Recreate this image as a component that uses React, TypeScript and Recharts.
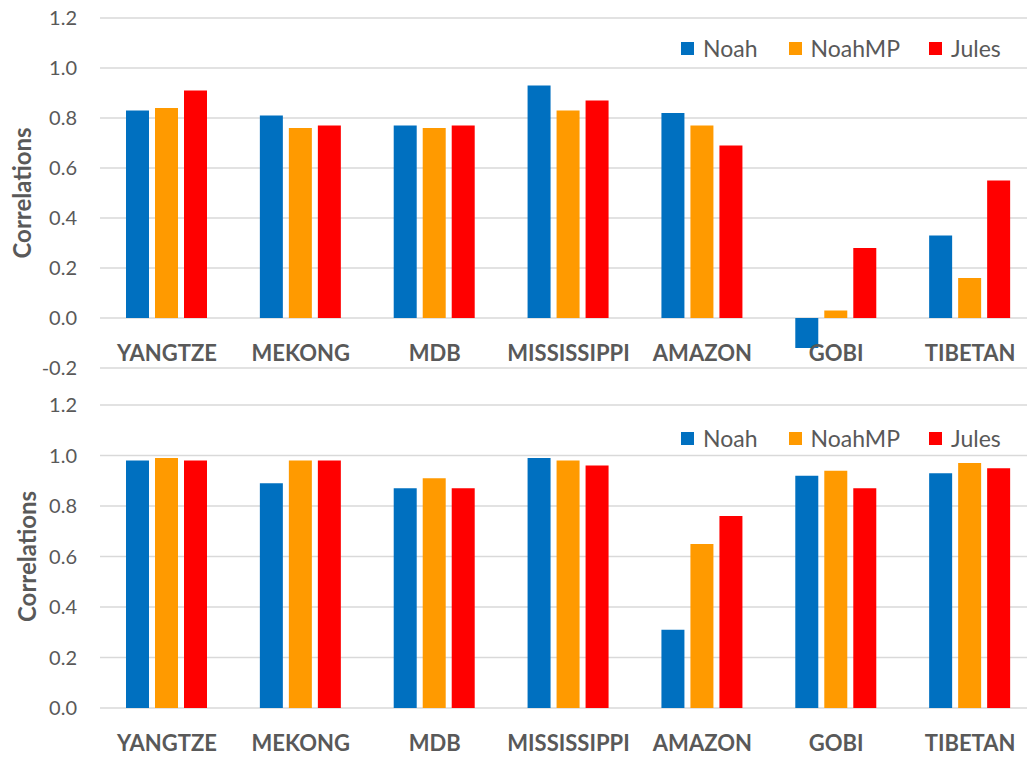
import { Bar, BarChart, CartesianGrid, Legend, XAxis, YAxis } from "recharts";

const basins = ["YANGTZE", "MEKONG", "MDB", "MISSISSIPPI", "AMAZON", "GOBI", "TIBETAN"];

// top panel
const noahTop = [0.83, 0.81, 0.77, 0.93, 0.82, -0.12, 0.33];
const noahMpTop = [0.84, 0.76, 0.76, 0.83, 0.77, 0.03, 0.16];
const julesTop = [0.91, 0.77, 0.77, 0.87, 0.69, 0.28, 0.55];
const ticksTop = [-0.2, 0, 0.2, 0.4, 0.6, 0.8, 1.0, 1.2];

// bottom panel
const noahBottom = [0.98, 0.89, 0.87, 0.99, 0.31, 0.92, 0.93];
const noahMpBottom = [0.99, 0.98, 0.91, 0.98, 0.65, 0.94, 0.97];
const julesBottom = [0.98, 0.98, 0.87, 0.96, 0.76, 0.87, 0.95];
const ticksBottom = [0, 0.2, 0.4, 0.6, 0.8, 1.0, 1.2];

const seriesNames = ["Noah", "NoahMP", "Jules"];
const seriesColors = ["#0070C0", "#FF9A00", "#FF0000"];

const FONT = "Lato, 'Open Sans', sans-serif";
const TEXT = "#595959";
const GRID = "#d9d9d9";

const topData = basins.map((name, i) => ({
  name,
  Noah: noahTop[i],
  NoahMP: noahMpTop[i],
  Jules: julesTop[i],
}));
const bottomData = basins.map((name, i) => ({
  name,
  Noah: noahBottom[i],
  NoahMP: noahMpBottom[i],
  Jules: julesBottom[i],
}));

const legendGaps = [31, 29, 0];

function LegendBox() {
  return (
    <div style={{ display: "flex", alignItems: "center", fontFamily: FONT, fontSize: 23, color: TEXT, lineHeight: 1 }}>
      {seriesNames.map((s, i) => (
        <span key={s} style={{ display: "flex", alignItems: "center", marginRight: legendGaps[i] }}>
          <span style={{ width: 13, height: 13, background: seriesColors[i], marginRight: 9 }} />
          {s}
        </span>
      ))}
    </div>
  );
}

function CategoryTick({ x, y, payload, lift }: { x?: number; y?: number; payload?: { value: string }; lift: number }) {
  return (
    <text
      x={x}
      y={(y ?? 0) - lift}
      textAnchor="middle"
      dominantBaseline="central"
      fontFamily={FONT}
      fontWeight={700}
      fontSize={22}
      fill={TEXT}
    >
      {payload?.value}
    </text>
  );
}

function AxisTitle({ viewBox, cx }: { viewBox?: { x: number; y: number; height: number }; cx: number }) {
  if (!viewBox) return null;
  const cy = viewBox.y + viewBox.height / 2;
  return (
    <text
      x={cx}
      y={cy}
      transform={`rotate(-90, ${cx}, ${cy})`}
      textAnchor="middle"
      dominantBaseline="central"
      fontFamily={FONT}
      fontWeight={700}
      fontSize={24}
      fill={TEXT}
    >
      Correlations
    </text>
  );
}

function Panel({
  data,
  ticks,
  domain,
  height,
  marginTop,
  xHeight,
  lift,
  legendTop,
  titleX,
}: {
  data: typeof topData;
  ticks: number[];
  domain: [number, number];
  height: number;
  marginTop: number;
  xHeight: number;
  lift: number;
  legendTop: number;
  titleX: number;
}) {
  return (
    <BarChart
      width={1037}
      height={height}
      data={data}
      margin={{ top: marginTop, right: 0, bottom: 0, left: 0 }}
      barSize={23}
      barGap={6}
    >
      <CartesianGrid vertical={false} stroke={GRID} strokeWidth={1.5} />
      <XAxis
        dataKey="name"
        height={xHeight}
        axisLine={false}
        tickLine={false}
        tickSize={0}
        tickMargin={0}
        interval={0}
        tick={<CategoryTick lift={lift} />}
      />
      <YAxis
        width={100}
        domain={domain}
        ticks={ticks}
        interval={0}
        axisLine={false}
        tickLine={false}
        tickMargin={17}
        tickFormatter={(v: number) => v.toFixed(1)}
        tick={{ fontFamily: FONT, fontSize: 20, fill: TEXT }}
        label={<AxisTitle cx={titleX} />}
      />
      <Legend
        verticalAlign="middle"
        content={<LegendBox />}
        wrapperStyle={{ top: legendTop, left: 681, width: 360 }}
      />
      {seriesNames.map((s, i) => (
        <Bar key={s} dataKey={s} fill={seriesColors[i]} isAnimationActive={false} />
      ))}
    </BarChart>
  );
}

export default function App() {
  return (
    <div
      style={{
        position: "absolute",
        left: 0,
        top: 0,
        width: 1027,
        height: 757,
        overflow: "hidden",
        background: "#fff",
      }}
    >
      <Panel
        data={topData}
        ticks={ticksTop}
        domain={[-0.2, 1.2]}
        height={385}
        marginTop={18}
        xHeight={17}
        lift={16}
        legendTop={37}
        titleX={21}
      />
      <Panel
        data={bottomData}
        ticks={ticksBottom}
        domain={[0, 1.2]}
        height={372}
        marginTop={20}
        xHeight={49}
        lift={-34}
        legendTop={42}
        titleX={26}
      />
    </div>
  );
}
